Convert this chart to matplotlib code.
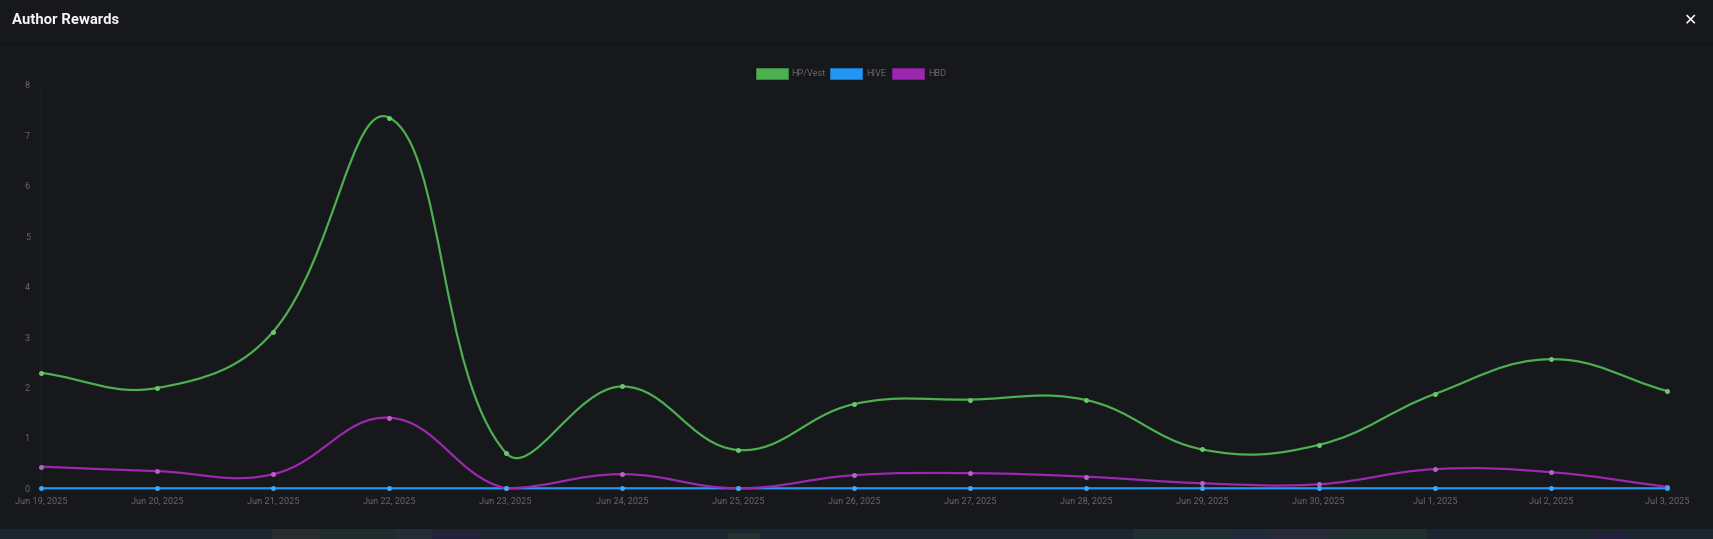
import numpy as np
import matplotlib
matplotlib.use('Agg')
import matplotlib.pyplot as plt
from matplotlib.path import Path
from matplotlib.patches import PathPatch, Rectangle

plt.rcParams['font.family'] = ['Roboto', 'DejaVu Sans']

W, H = 1713, 539

dates = ['Jun 19, 2025', 'Jun 20, 2025', 'Jun 21, 2025', 'Jun 22, 2025', 'Jun 23, 2025',
         'Jun 24, 2025', 'Jun 25, 2025', 'Jun 26, 2025', 'Jun 27, 2025', 'Jun 28, 2025',
         'Jun 29, 2025', 'Jun 30, 2025', 'Jul 1, 2025', 'Jul 2, 2025', 'Jul 3, 2025']
hp_vest = [2.29, 1.99, 3.11, 7.35, 0.71, 2.02, 0.76, 1.67, 1.76, 1.75, 0.77, 0.86, 1.87, 2.56, 1.93]
hive = [0] * 15
hbd = [0.43, 0.34, 0.28, 1.40, 0.0, 0.28, 0.0, 0.26, 0.30, 0.23, 0.10, 0.08, 0.38, 0.32, 0.03]
yticks = [0, 1, 2, 3, 4, 5, 6, 7, 8]

BG = '#17181b'
GREEN = '#4caf50'
BLUE = '#2196f3'
PURPLE = '#9c27b0'
TEXT = '#666666'

# bits of the page background showing under the modal: (x0, x1, top, colour)
page_bits = [(272, 320, 529, '#272c2e'), (320, 395, 529, '#1e2c2e'), (395, 432, 529, '#262c35'),
             (432, 482, 529, '#22233a'), (728, 760, 533, '#263231'), (1133, 1230, 529, '#1f2e30'),
             (1230, 1270, 529, '#1f2a3a'), (1270, 1330, 529, '#272a38'), (1330, 1427, 529, '#1f2e2e'),
             (1594, 1626, 533, '#241f3c')]


def spline_path(ax, xs, ys, tension=0.4):
    # same bezier control points chart.js uses, worked out in pixels
    pts = ax.transData.transform(np.column_stack([xs, ys]))
    verts = [pts[0]]
    codes = [Path.MOVETO]
    n = len(pts)
    after = [pts[0]] * n
    before = [pts[0]] * n
    for i in range(n):
        prev = pts[max(i - 1, 0)]
        cur = pts[i]
        nxt = pts[min(i + 1, n - 1)]
        d01 = np.hypot(*(cur - prev))
        d12 = np.hypot(*(nxt - cur))
        total = d01 + d12
        before[i] = cur - tension * d01 / total * (nxt - prev)
        after[i] = cur + tension * d12 / total * (nxt - prev)
    # no overshoot past the chart bottom, chart.js caps these to the chart area
    bottom = ax.transData.transform((0, 0))[1]
    for i in range(1, n):
        c1 = after[i - 1].copy()
        c2 = before[i].copy()
        c1[1] = max(c1[1], bottom)
        c2[1] = max(c2[1], bottom)
        verts += [c1, c2, pts[i]]
        codes += [Path.CURVE4] * 3
    return Path(verts, codes)


fig = plt.figure(figsize=(W / 100, H / 100), dpi=100, facecolor=BG)

# strip of page background under the modal
fig.add_artist(Rectangle((0, 0), 1, (H - 529) / H, transform=fig.transFigure, color='#1c2630', lw=0))
for x0, x1, top, col in page_bits:
    fig.add_artist(Rectangle((x0 / W, 0), (x1 - x0) / W, (H - top) / H, transform=fig.transFigure, color=col, lw=0))
# header divider
fig.add_artist(plt.Line2D([0, 1], [1 - 42.5 / H] * 2, color='#111214', lw=1))

ax = fig.add_axes([41 / W, 1 - 488.3 / H, (1667 - 41) / W, (488.3 - 85) / H], facecolor=BG)
x = np.arange(len(dates))
ax.set_xlim(0, len(dates) - 1)
ax.set_ylim(0, 8)

for vals, col in [(hp_vest, GREEN), (hive, BLUE), (hbd, PURPLE)]:
    p = spline_path(ax, x, vals)
    ax.add_patch(PathPatch(p, transform=None, fill=False, edgecolor=col, lw=1.6, clip_on=False, zorder=3))

for vals, col, light in [(hbd, PURPLE, '#b95fc9'), (hp_vest, GREEN, '#6cc56f'), (hive, BLUE, '#42a5f5')]:
    ax.plot(x, vals, ls='none', marker='o', ms=3.6, mfc=light, mew=0, clip_on=False, zorder=4)

for s in ['top', 'right', 'bottom']:
    ax.spines[s].set_visible(False)
ax.spines['left'].set_color('#1f2225')
ax.spines['left'].set_linewidth(1)

ax.set_xticks(x)
ax.set_xticklabels(dates)
ax.set_yticks(yticks)
ax.tick_params(axis='both', length=0, labelsize=6.6, labelcolor=TEXT)
ax.tick_params(axis='x', pad=6)
ax.tick_params(axis='y', pad=8)

# legend boxes, drawn by hand to get chart.js look
legend = [('HP/Vest', GREEN, '#3a8a3e', 755.5), ('HIVE', BLUE, '#1a76c0', 830), ('HBD', PURPLE, '#7a1f8a', 892)]
for name, col, edge, lx in legend:
    fig.add_artist(Rectangle((lx / W, 1 - 79 / H), 32 / W, 11.5 / H, transform=fig.transFigure,
                             facecolor=col, edgecolor=edge, lw=0.7))
    fig.text((lx + 36) / W, 1 - 73 / H, name, color=TEXT, fontsize=6.6, va='center')

fig.text(12 / W, 1 - 20 / H, 'Author Rewards', color='#f5f5f5', fontsize=10.7, fontweight='bold', va='center')
fig.text(1691 / W, 1 - 20.5 / H, '\u2715', color='white', fontsize=11.5, ha='center', va='center', family=['DejaVu Sans'])

fig.savefig('out.png', dpi=100, facecolor=BG)
